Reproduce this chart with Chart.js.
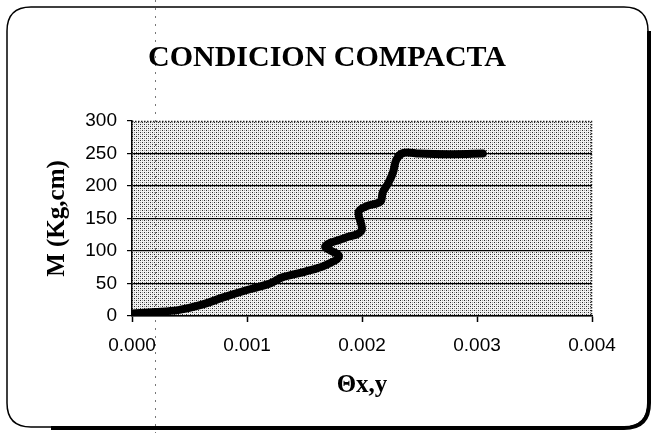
<!DOCTYPE html>
<html>
<head>
<meta charset="utf-8">
<script src="https://cdn.jsdelivr.net/npm/chart.js@4/dist/chart.umd.min.js"></script>
<style>
  html, body { margin: 0; padding: 0; background: #fff; }
  #wrap { width: 654px; height: 433px; position: relative; }
</style>
</head>
<body>
<div id="wrap"><canvas id="c" width="654" height="433"></canvas></div>
<script>
// Data
const theta = [0, 0.0002, 0.0004, 0.0006, 0.0008, 0.001, 0.0012, 0.0013, 0.0015, 0.00168, 0.0018, 0.00168, 0.00185, 0.00197, 0.002, 0.00197, 0.00204, 0.00216, 0.00218, 0.00223, 0.00227, 0.0023, 0.00236, 0.0025, 0.0028, 0.00305];
const moment = [4, 6, 9, 17, 29, 40, 50, 59, 68, 78, 92, 107, 120, 127, 135, 160, 169, 176, 190, 205, 221, 241, 251, 250, 249, 250];
const xTicks = [0, 0.001, 0.002, 0.003, 0.004];
const yTicks = [0, 50, 100, 150, 200, 250, 300];
const titleText = 'CONDICION COMPACTA';
const xTitle = '\u0398x,y';
const yTitle = 'M (Kg,cm)';

const points = theta.map((t, i) => ({ x: t, y: moment[i] }));

// dotted grey fill pattern for plot area
function makePattern(ctx) {
  const p = document.createElement('canvas');
  p.width = 4; p.height = 4;
  const pc = p.getContext('2d');
  pc.fillStyle = '#f2f2f2';
  pc.fillRect(0, 0, 4, 4);
  pc.fillStyle = '#2a2a2a';
  pc.fillRect(0, 0, 1, 1);
  pc.fillRect(2, 2, 1, 1);
  pc.fillStyle = '#a0a0a0';
  pc.fillRect(2, 0, 1, 1);
  pc.fillRect(0, 2, 1, 1);
  return ctx.createPattern(p, 'repeat');
}

const bgPlugin = {
  id: 'bg',
  beforeDraw(chart) {
    const { ctx, chartArea: a } = chart;
    ctx.save();
    ctx.fillStyle = makePattern(ctx);
    ctx.fillRect(a.left, a.top, a.right - a.left, a.bottom - a.top);
    // dotted plot border (top and right)
    ctx.strokeStyle = '#222';
    ctx.lineWidth = 1.5;
    ctx.setLineDash([1.5, 1.5]);
    ctx.beginPath();
    ctx.moveTo(a.left, a.top + 0.5);
    ctx.lineTo(a.right - 0.5, a.top + 0.5);
    ctx.lineTo(a.right - 0.5, a.bottom);
    ctx.stroke();
    // faint dotted scan fold line
    ctx.strokeStyle = '#777';
    ctx.lineWidth = 1;
    ctx.setLineDash([2, 6]);
    ctx.beginPath();
    ctx.moveTo(155.5, 0);
    ctx.lineTo(155.5, 433);
    ctx.stroke();
    ctx.restore();
  },
  afterDraw(chart) {
    const { ctx } = chart;
    ctx.save();
    // rounded outer frame
    const l = 7, t = 7, r = 648, b = 427, rad = 24;
    ctx.strokeStyle = '#000';
    ctx.lineWidth = 1.5;
    ctx.beginPath();
    ctx.moveTo(l + rad, t);
    ctx.lineTo(r - rad, t);
    ctx.quadraticCurveTo(r, t, r, t + rad);
    ctx.lineTo(r, b - rad);
    ctx.quadraticCurveTo(r, b, r - rad, b);
    ctx.lineTo(l + rad, b);
    ctx.quadraticCurveTo(l, b, l, b - rad);
    ctx.lineTo(l, t + rad);
    ctx.quadraticCurveTo(l, t, l + rad, t);
    ctx.stroke();
    // heavier right / bottom edge (shadow-like)
    ctx.lineWidth = 4;
    ctx.beginPath();
    ctx.moveTo(r + 1, t + rad);
    ctx.lineTo(r + 1, b - rad);
    ctx.quadraticCurveTo(r + 1, b + 1, r - rad, b + 1);
    ctx.lineTo(l + rad + 20, b + 1);
    ctx.stroke();
    ctx.restore();
  }
};

new Chart(document.getElementById('c'), {
  type: 'scatter',
  data: {
    datasets: [{
      data: points,
      showLine: true,
      borderColor: '#000',
      backgroundColor: '#000',
      borderWidth: 8,
      pointRadius: 0,
      tension: 0.35,
      borderCapStyle: 'round',
      borderJoinStyle: 'round'
    }]
  },
  options: {
    responsive: false,
    animation: false,
    devicePixelRatio: 1,
    layout: { padding: { left: 10, right: 10, top: 0, bottom: 10 } },
    plugins: {
      legend: { display: false },
      tooltip: { enabled: false },
      title: {
        display: true,
        text: titleText,
        color: '#000',
        font: { family: 'Liberation Serif', size: 30, weight: 'bold' },
        padding: { top: 40, bottom: 45 }
      }
    },
    scales: {
      x: {
        type: 'linear',
        min: 0, max: 0.004,
        afterBuildTicks(s) { s.ticks = xTicks.map(v => ({ value: v })); },
        afterFit(s) { s.height = 107; },
        border: { display: true, color: '#000', width: 1.5 },
        grid: { display: true, drawOnChartArea: false, drawTicks: true, tickLength: 6, color: '#000', tickWidth: 1.5 },
        ticks: {
          color: '#000',
          padding: 12,
          font: { family: 'Liberation Sans', size: 19 },
          callback: v => v.toFixed(3)
        },
        title: {
          display: true,
          text: xTitle,
          color: '#000',
          font: { family: 'Liberation Serif', size: 25, weight: 'bold' },
          padding: { top: 0, bottom: 22 }
        }
      },
      y: {
        type: 'linear',
        min: 0, max: 300,
        afterBuildTicks(s) { s.ticks = yTicks.map(v => ({ value: v })); },
        afterFit(s) { s.width = 122; },
        border: { display: true, color: '#000', width: 1.5 },
        grid: {
          display: true,
          drawOnChartArea: true,
          drawTicks: true,
          tickLength: 5,
          color: ctx => (ctx.tick && ctx.tick.value === 300) ? 'rgba(0,0,0,0)' : '#000',
          tickColor: '#000',
          lineWidth: 1.2
        },
        ticks: {
          color: '#000',
          padding: 10,
          font: { family: 'Liberation Sans', size: 19 },
          callback: v => String(v)
        },
        title: {
          display: true,
          text: yTitle,
          color: '#000',
          font: { family: 'Liberation Serif', size: 25, weight: 'bold' },
          padding: { top: 33, bottom: 0 }
        }
      },
      yRight: {
        type: 'linear',
        position: 'right',
        min: 0, max: 300,
        display: true,
        afterFit(s) { s.width = 52; },
        border: { display: false },
        grid: { display: false, drawOnChartArea: false },
        ticks: { display: false }
      }
    }
  },
  plugins: [bgPlugin]
});
</script>
</body>
</html>
